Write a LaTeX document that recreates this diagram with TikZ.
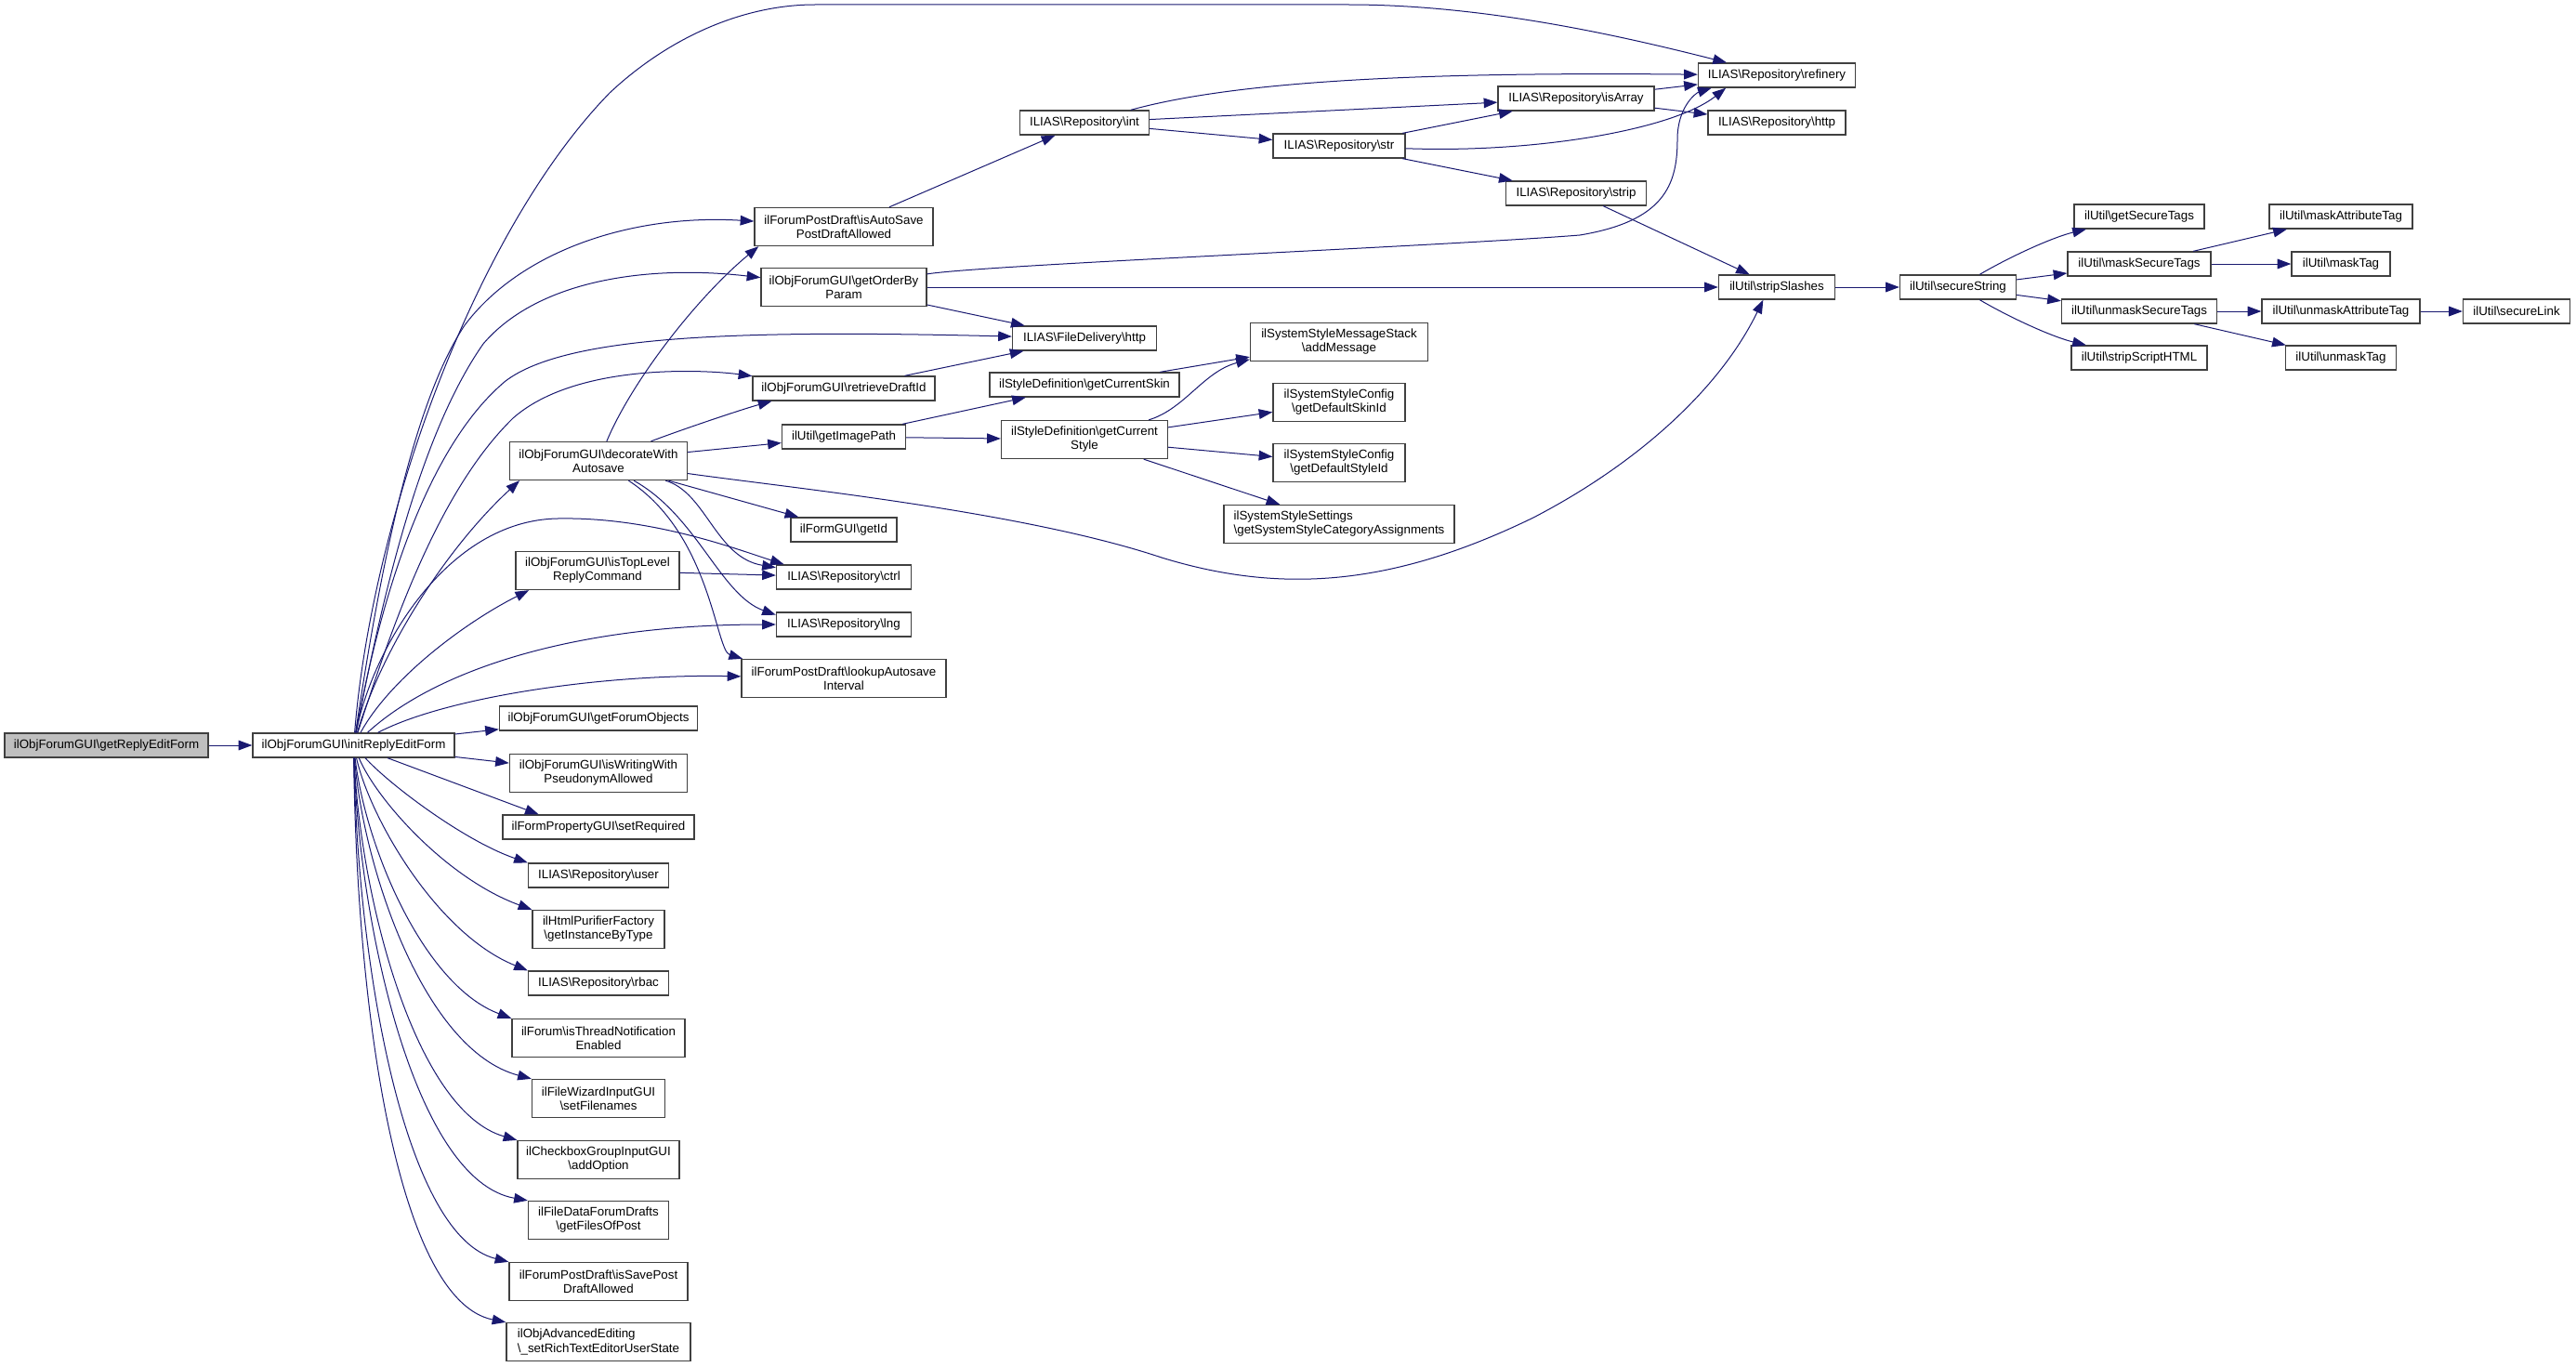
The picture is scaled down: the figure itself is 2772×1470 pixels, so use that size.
\documentclass[tikz,border=0pt]{standalone}
\usepackage{fontspec}
\setmainfont{Liberation Sans}
\usetikzlibrary{arrows.meta}
\definecolor{edgec}{RGB}{25,25,112}
\newcommand{\Bsl}{\textbackslash}
\begin{document}
\begin{tikzpicture}[x=0.75pt,y=-0.75pt,
  fn/.style={draw=black!75,line width=1pt,rectangle,inner sep=0pt,align=center,
    font=\fontsize{10pt}{11.3pt}\selectfont,minimum height=19.5pt},
  two/.style={minimum height=30.75pt},
  bw/.style={minimum width=#1*0.75pt},
  conn/.style={draw=edgec,line width=0.75pt,-{Triangle[length=11pt,width=8pt]}}]
\useasboundingbox (0,0) rectangle (2772,1470);

% ---------- nodes ----------
\node[fn,bw=219,fill=black!25] (getReply) at (114.5,802) {ilObjForumGUI\Bsl{}getReplyEditForm};
\node[fn,bw=217] (init) at (380.5,802) {ilObjForumGUI\Bsl{}initReplyEditForm};

\node[fn,two,bw=192] (isAutoSave) at (908,244) {ilForumPostDraft\Bsl{}isAutoSave\\PostDraftAllowed};
\node[fn,two,bw=178] (getOrderBy) at (908,309) {ilObjForumGUI\Bsl{}getOrderBy\\Param};
\node[fn,bw=196] (retrieveDraftId) at (908,418) {ilObjForumGUI\Bsl{}retrieveDraftId};
\node[fn,bw=133] (getImagePath) at (908,470) {ilUtil\Bsl{}getImagePath};
\node[fn,bw=114] (getId) at (908,570) {ilFormGUI\Bsl{}getId};
\node[fn,bw=145] (ctrl) at (908,621) {ILIAS\Bsl{}Repository\Bsl{}ctrl};
\node[fn,bw=145] (lng) at (908,672) {ILIAS\Bsl{}Repository\Bsl{}lng};
\node[fn,two,bw=220] (lookupAutosave) at (908,730) {ilForumPostDraft\Bsl{}lookupAutosave\\Interval};

\node[fn,two,bw=191] (decorate) at (644,496) {ilObjForumGUI\Bsl{}decorateWith\\Autosave};
\node[fn,two,bw=176] (isTopLevel) at (643,614) {ilObjForumGUI\Bsl{}isTopLevel\\ReplyCommand};
\node[fn,bw=213] (getForumObjects) at (644,773) {ilObjForumGUI\Bsl{}getForumObjects};
\node[fn,two,bw=191] (isWritingWith) at (644,832) {ilObjForumGUI\Bsl{}isWritingWith\\PseudonymAllowed};
\node[fn,bw=206] (setRequired) at (644,890) {ilFormPropertyGUI\Bsl{}setRequired};
\node[fn,bw=151] (user) at (644,942) {ILIAS\Bsl{}Repository\Bsl{}user};
\node[fn,two,bw=142] (getInstanceByType) at (644,1000) {ilHtmlPurifierFactory\\\Bsl{}getInstanceByType};
\node[fn,bw=151] (rbac) at (644,1058) {ILIAS\Bsl{}Repository\Bsl{}rbac};
\node[fn,two,bw=186] (isThreadNotification) at (644,1117) {ilForum\Bsl{}isThreadNotification\\Enabled};
\node[fn,two,bw=143] (setFilenames) at (644,1182) {ilFileWizardInputGUI\\\Bsl{}setFilenames};
\node[fn,two,bw=174] (addOption) at (644,1248) {ilCheckboxGroupInputGUI\\\Bsl{}addOption};
\node[fn,two,bw=151] (getFilesOfPost) at (644,1313) {ilFileDataForumDrafts\\\Bsl{}getFilesOfPost};
\node[fn,two,bw=192] (isSavePost) at (644,1379) {ilForumPostDraft\Bsl{}isSavePost\\DraftAllowed};
\node[fn,two,bw=198,align=left] (setRich) at (644,1444) {ilObjAdvancedEditing\\\Bsl{}\_setRichTextEditorUserState};

\node[fn,bw=139] (int) at (1167,132) {ILIAS\Bsl{}Repository\Bsl{}int};
\node[fn,bw=155] (fileHttp) at (1167,364) {ILIAS\Bsl{}FileDelivery\Bsl{}http};
\node[fn,bw=204] (getCurrentSkin) at (1167,414) {ilStyleDefinition\Bsl{}getCurrentSkin};
\node[fn,two,bw=179] (getCurrentStyle) at (1167,473) {ilStyleDefinition\Bsl{}getCurrent\\Style};

\node[fn,bw=142] (str) at (1441,157) {ILIAS\Bsl{}Repository\Bsl{}str};
\node[fn,two,bw=191] (addMessage) at (1441,368) {ilSystemStyleMessageStack\\\Bsl{}addMessage};
\node[fn,two,bw=142] (getDefaultSkinId) at (1441,433) {ilSystemStyleConfig\\\Bsl{}getDefaultSkinId};
\node[fn,two,bw=142] (getDefaultStyleId) at (1441,498) {ilSystemStyleConfig\\\Bsl{}getDefaultStyleId};
\node[fn,two,bw=248,align=left] (getCatAssign) at (1441,564) {ilSystemStyleSettings\\\Bsl{}getSystemStyleCategoryAssignments};

\node[fn,bw=168] (isArray) at (1696,106) {ILIAS\Bsl{}Repository\Bsl{}isArray};
\node[fn,bw=151] (strip) at (1696,208) {ILIAS\Bsl{}Repository\Bsl{}strip};

\node[fn,bw=169] (refinery) at (1912,81) {ILIAS\Bsl{}Repository\Bsl{}refinery};
\node[fn,bw=148] (repHttp) at (1912,132) {ILIAS\Bsl{}Repository\Bsl{}http};
\node[fn,bw=125] (stripSlashes) at (1912,309) {ilUtil\Bsl{}stripSlashes};
\node[fn,bw=125] (secureString) at (2107,309) {ilUtil\Bsl{}secureString};

\node[fn,bw=140] (getSecureTags) at (2302,233) {ilUtil\Bsl{}getSecureTags};
\node[fn,bw=154] (maskSecureTags) at (2302,284) {ilUtil\Bsl{}maskSecureTags};
\node[fn,bw=167] (unmaskSecureTags) at (2302,335) {ilUtil\Bsl{}unmaskSecureTags};
\node[fn,bw=146] (stripScriptHTML) at (2302,385) {ilUtil\Bsl{}stripScriptHTML};

\node[fn,bw=154] (maskAttributeTag) at (2519,233) {ilUtil\Bsl{}maskAttributeTag};
\node[fn,bw=106] (maskTag) at (2519,284) {ilUtil\Bsl{}maskTag};
\node[fn,bw=170] (unmaskAttributeTag) at (2519,335) {ilUtil\Bsl{}unmaskAttributeTag};
\node[fn,bw=119] (unmaskTag) at (2519,385) {ilUtil\Bsl{}unmaskTag};
\node[fn,bw=115] (secureLink) at (2708,335) {ilUtil\Bsl{}secureLink};

% ---------- edges ----------
\draw[conn] (getReply) -- (init);

% from initReplyEditForm
\draw[conn] (init) .. controls (400,560) and (510,250) .. (656,100)
  .. controls (720,40) and (800,5) .. (877,5) -- (1451,5)
  .. controls (1600,5) and (1750,40) .. (refinery);
\draw[conn] (init) .. controls (405,640) and (440,440) .. (500,350)
  .. controls (560,270) and (680,230) .. (isAutoSave);
\draw[conn] (init) .. controls (410,650) and (450,470) .. (520,370)
  .. controls (580,300) and (700,285) .. (getOrderBy);
\draw[conn] (init) .. controls (410,640) and (460,480) .. (544,410)
  .. controls (610,360) and (800,355) .. (fileHttp);
\draw[conn] (init) .. controls (420,680) and (470,530) .. (552,450)
  .. controls (620,390) and (760,398) .. (retrieveDraftId);
\draw[conn] (init) .. controls (410,700) and (480,590) .. (decorate.194);
\draw[conn] (init) .. controls (400,700) and (480,560) .. (600,558)
  .. controls (700,556) and (790,590) .. (ctrl.168);
\draw[conn] (init) .. controls (420,730) and (500,670) .. (isTopLevel.196);
\draw[conn] (init) .. controls (470,720) and (620,672) .. (lng);
\draw[conn] (init) .. controls (480,750) and (650,725) .. (lookupAutosave);
\draw[conn] (init) -- (getForumObjects);
\draw[conn] (init) -- (isWritingWith);
\draw[conn] (init) -- (setRequired.168);
\draw[conn] (init) .. controls (420,845) and (500,905) .. (user.north west);
\draw[conn] (init) .. controls (405,860) and (480,945) .. (getInstanceByType.north west);
\draw[conn] (init) .. controls (398,880) and (470,1005) .. (rbac.north west);
\draw[conn] (init) .. controls (393,910) and (455,1060) .. (isThreadNotification.north west);
\draw[conn] (init) .. controls (390,930) and (455,1130) .. (setFilenames.north west);
\draw[conn] (init) .. controls (387,960) and (445,1195) .. (addOption.north west);
\draw[conn] (init) .. controls (386,990) and (445,1270) .. (getFilesOfPost.north west);
\draw[conn] (init) .. controls (385,1040) and (435,1330) .. (isSavePost.north west);
\draw[conn] (init) .. controls (384,1100) and (430,1400) .. (setRich.north west);

% from decorateWithAutosave
\draw[conn] (decorate) .. controls (680,410) and (750,320) .. (isAutoSave.193);
\draw[conn] (decorate) .. controls (740,460) and (800,440) .. (retrieveDraftId.190);
\draw[conn] (decorate) -- (getImagePath);
\draw[conn] (decorate) -- (getId);
\draw[conn] (decorate) .. controls (760,530) and (770,600) .. (ctrl.172);
\draw[conn] (decorate) .. controls (750,555) and (775,640) .. (lng.172);
\draw[conn] (decorate) .. controls (765,575) and (770,700) .. (lookupAutosave.169);
\draw[conn] (decorate) .. controls (850,525) and (1100,550) .. (1250,600)
  .. controls (1380,640) and (1500,630) .. (1650,557)
  .. controls (1760,500) and (1850,420) .. (stripSlashes.223);

\draw[conn] (isTopLevel) -- (ctrl);

% getOrderByParam
\draw[conn] (getOrderBy) .. controls (1060,285) and (1550,265) .. (1700,253)
  .. controls (1790,238) and (1805,200) .. (1805,150)
  .. controls (1805,115) and (1825,100) .. (refinery.191);
\draw[conn] (getOrderBy) -- (stripSlashes);
\draw[conn] (getOrderBy) -- (fileHttp);
\draw[conn] (retrieveDraftId) -- (fileHttp);

% getImagePath and style
\draw[conn] (getImagePath) -- (getCurrentSkin);
\draw[conn] (getImagePath) -- (getCurrentStyle);
\draw[conn] (getCurrentSkin) -- (addMessage);
\draw[conn] (getCurrentStyle) .. controls (1275,440) and (1295,400) .. (addMessage.191);
\draw[conn] (getCurrentStyle) -- (getDefaultSkinId);
\draw[conn] (getCurrentStyle) -- (getDefaultStyleId);
\draw[conn] (getCurrentStyle) -- (getCatAssign);

% repository chain
\draw[conn] (isAutoSave) -- (int);
\draw[conn] (int) .. controls (1320,90) and (1500,77) .. (refinery);
\draw[conn] (int) -- (isArray);
\draw[conn] (int) -- (str);
\draw[conn] (str) -- (isArray);
\draw[conn] (str) .. controls (1650,165) and (1800,140) .. (refinery.194);
\draw[conn] (str) -- (strip);
\draw[conn] (isArray) -- (refinery);
\draw[conn] (isArray) -- (repHttp);
\draw[conn] (strip) -- (stripSlashes);

% ilUtil chain
\draw[conn] (stripSlashes) -- (secureString);
\draw[conn] (secureString) .. controls (2165,275) and (2210,255) .. (getSecureTags);
\draw[conn] (secureString) -- (maskSecureTags);
\draw[conn] (secureString) -- (unmaskSecureTags);
\draw[conn] (secureString) .. controls (2165,343) and (2210,363) .. (stripScriptHTML);
\draw[conn] (maskSecureTags) -- (maskAttributeTag);
\draw[conn] (maskSecureTags) -- (maskTag);
\draw[conn] (unmaskSecureTags) -- (unmaskAttributeTag);
\draw[conn] (unmaskSecureTags) -- (unmaskTag);
\draw[conn] (unmaskAttributeTag) -- (secureLink);
\end{tikzpicture}
\end{document}
